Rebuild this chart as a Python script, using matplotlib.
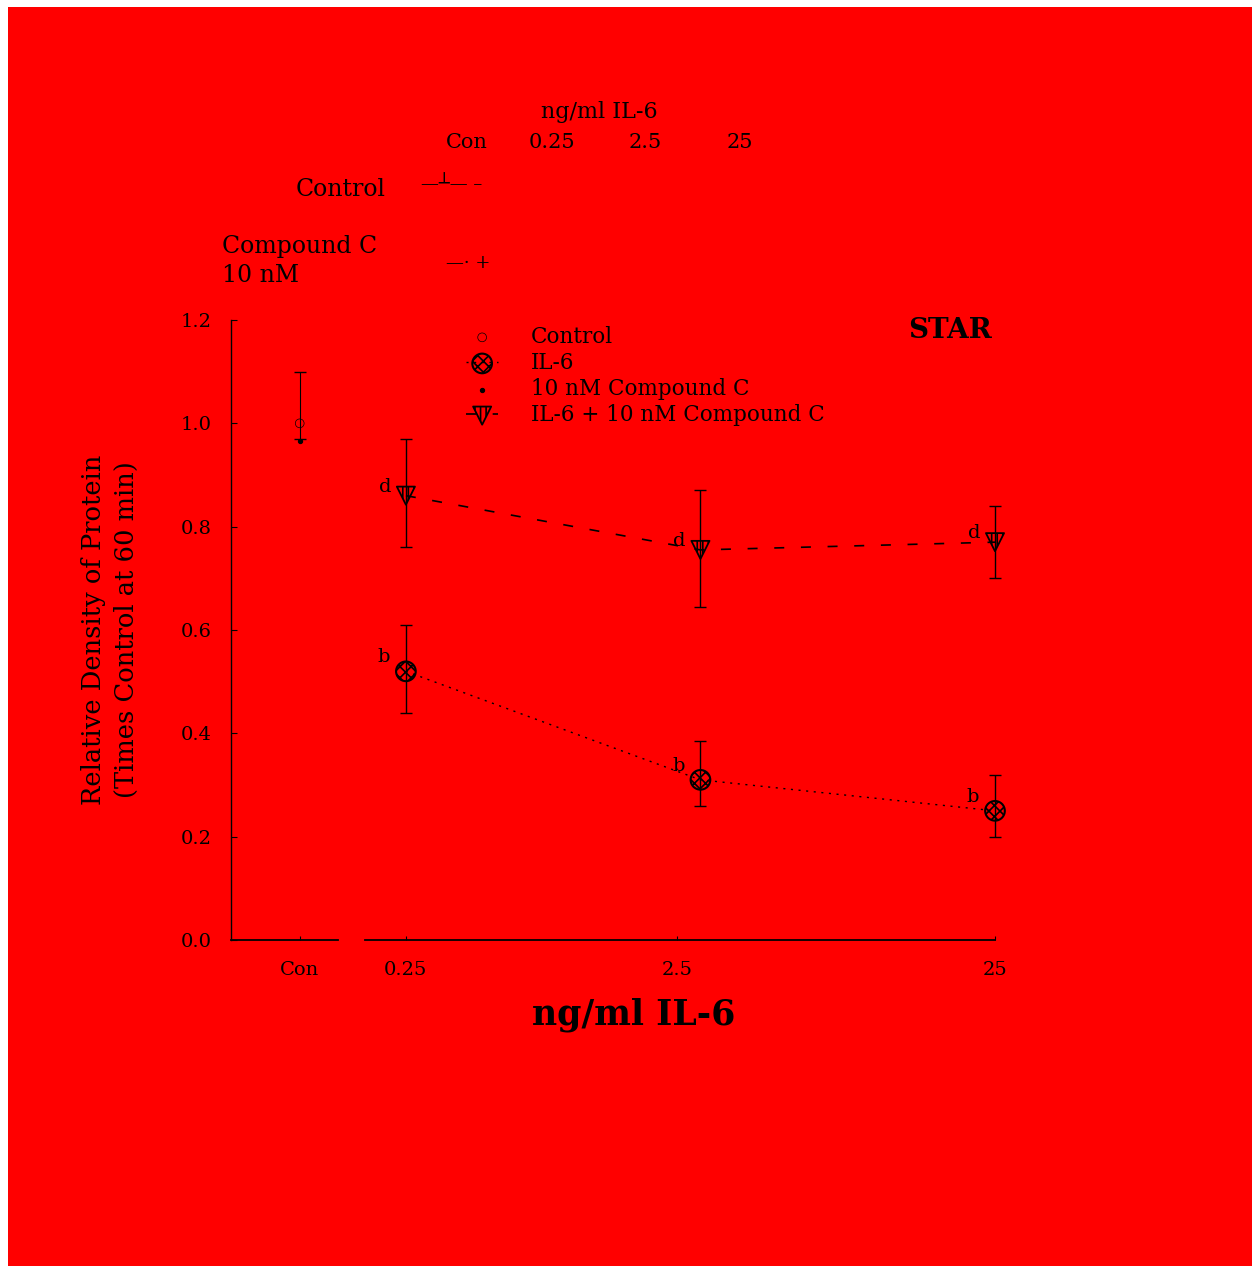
import numpy as np
import matplotlib
matplotlib.use("Agg")
import matplotlib.pyplot as plt
from matplotlib.patches import Rectangle

plt.rcParams['font.family'] = ['DejaVu Serif']
plt.rcParams['hatch.linewidth'] = 1.2

# ---- data ----
doses = [0.25, 2.5, 25]                      # ng/ml IL-6
il6_mean = [0.52, 0.31, 0.25]
il6_err_lo = [0.08, 0.05, 0.05]
il6_err_hi = [0.09, 0.075, 0.07]
il6_letters = ['b', 'b', 'b']

combo_mean = [0.86, 0.755, 0.77]
combo_err_lo = [0.10, 0.11, 0.07]
combo_err_hi = [0.11, 0.115, 0.07]
combo_letters = ['d', 'd', 'd']

con_pos = 0.109                              # where "Con" sits on the log axis
control_mean = [1.0]
control_err_lo = [0.03]
control_err_hi = [0.10]
cc_mean = [0.965]

tick_pos = [con_pos, 0.25, 2.08, 25]
tick_labels = ['Con', '0.25', '2.5', '25']
yticks = [0.0, 0.2, 0.4, 0.6, 0.8, 1.0, 1.2]

header_cols = ['Con', '0.25', '2.5', '25']
legend_labels = ['Control', 'IL-6', '10 nM Compound C', 'IL-6 + 10 nM Compound C']

W, H = 1252, 1266
fig = plt.figure(figsize=(W / 100, H / 100), dpi=100)
fig.patch.set_facecolor('white')
fig.add_artist(Rectangle((8 / W, 0), 1, 1 - 7 / H, transform=fig.transFigure,
                         facecolor='#ff0000', edgecolor='none', zorder=-10))


def fx(px):
    return px / W


def fy(py):
    return 1 - py / H


ax = fig.add_axes([fx(231), fy(940), (995 - 231) / W, 620 / H])
ax.set_facecolor('none')
ax.set_xscale('log')
ax.set_xlim(0.0637, 25)
ax.set_ylim(0, 1.2)

for s in ['top', 'right', 'bottom']:
    ax.spines[s].set_visible(False)
ax.spines['left'].set_linewidth(1.0)

# broken x axis line
ax.plot([0.0637, 0.147], [0, 0], color='k', lw=1.3, clip_on=False)
ax.plot([0.181, 25], [0, 0], color='k', lw=1.3, clip_on=False)

ax.set_xticks(tick_pos)
ax.set_xticklabels(tick_labels)
ax.xaxis.set_minor_locator(matplotlib.ticker.NullLocator())
ax.set_yticks(yticks)
ax.set_yticklabels([f'{v:.1f}' for v in yticks])
ax.tick_params(axis='y', direction='in', length=4, pad=14, labelsize=14)
ax.tick_params(axis='x', direction='in', length=3, pad=15, labelsize=14)

# lines
l_il6, = ax.plot(doses, il6_mean, color='k', lw=1.0, ls=(0, (1.5, 4)), zorder=2, clip_on=False)
l_combo, = ax.plot(doses, combo_mean, color='k', lw=1.2, ls=(0, (6, 10)), zorder=2, clip_on=False)

# error bars
for m, lo, hi in [(il6_mean, il6_err_lo, il6_err_hi), (combo_mean, combo_err_lo, combo_err_hi)]:
    eb = ax.errorbar(doses, m, yerr=[lo, hi], fmt='none', ecolor='k',
                     elinewidth=1, capsize=4, zorder=2)
    for a in eb.lines[1] + eb.lines[2]:
        a.set_clip_on(False)
ax.errorbar([con_pos], control_mean, yerr=[control_err_lo, control_err_hi], fmt='none',
            ecolor='k', elinewidth=0.8, capsize=4, zorder=2)

# markers
s_il6 = ax.scatter(doses, il6_mean, s=200, marker='o', facecolor='none',
                   edgecolor='k', linewidth=1.5, hatch='xxx', zorder=3, clip_on=False)
s_combo = ax.scatter(doses, combo_mean, s=170, marker='v', facecolor='none',
                     edgecolor='k', linewidth=1.3, hatch='|||', zorder=3, clip_on=False)
s_ctrl = ax.scatter([con_pos], control_mean, s=40, marker='o', facecolor='none',
                    edgecolor='k', linewidth=0.5, zorder=3)
s_cc = ax.scatter([con_pos], cc_mean, s=8, marker='o', color='k', zorder=3)

# significance letters
for x, y, t in zip(doses, il6_mean, il6_letters):
    ax.annotate(t, (x, y), xytext=(-22, 14), textcoords='offset pixels',
                ha='center', va='center', fontsize=14)
for x, y, t in zip(doses, combo_mean, combo_letters):
    ax.annotate(t, (x, y), xytext=(-21, 9), textcoords='offset pixels',
                ha='center', va='center', fontsize=14)

fig.text(fx(950), fy(330), 'STAR', ha='center', va='center',
         fontsize=20, fontweight='bold')

leg = ax.legend([s_ctrl, (l_il6, s_il6), s_cc, (l_combo, s_combo)], legend_labels,
                loc='upper left', bbox_to_anchor=(fx(466), fy(326)),
                bbox_transform=fig.transFigure, frameon=False, fontsize=15.5,
                borderpad=0, borderaxespad=0, handlelength=1.5, handletextpad=1.5,
                labelspacing=0.19)

# axis labels
fig.text(fx(110), fy(630), 'Relative Density of Protein\n(Times Control at 60 min)',
         rotation=90, ha='center', va='center', multialignment='center',
         fontsize=18.5, linespacing=1.4)
fig.text(fx(634), fy(1015), 'ng/ml IL-6', ha='center', va='center',
         fontsize=25, fontweight='bold')

# treatment header above the plot
fig.text(fx(599), fy(112), 'ng/ml IL-6', ha='center', va='center', fontsize=16)
for px, t in zip([467, 552, 645, 740], header_cols):
    fig.text(fx(px), fy(143), t, ha='center', va='center', fontsize=15)
fig.text(fx(341), fy(190), 'Control', ha='center', va='center', fontsize=17)
fig.text(fx(452), fy(184), '\u2014\u2534\u2014 \u2013', ha='center', va='center', fontsize=13)
fig.text(fx(222), fy(247), 'Compound C', ha='left', va='center', fontsize=17)
fig.text(fx(222), fy(275), '10 nM', ha='left', va='center', fontsize=17)
fig.text(fx(468), fy(263), '\u2014\u00b7 +', ha='center', va='center', fontsize=13)

fig.savefig('out.png', dpi=100, facecolor=fig.get_facecolor())
